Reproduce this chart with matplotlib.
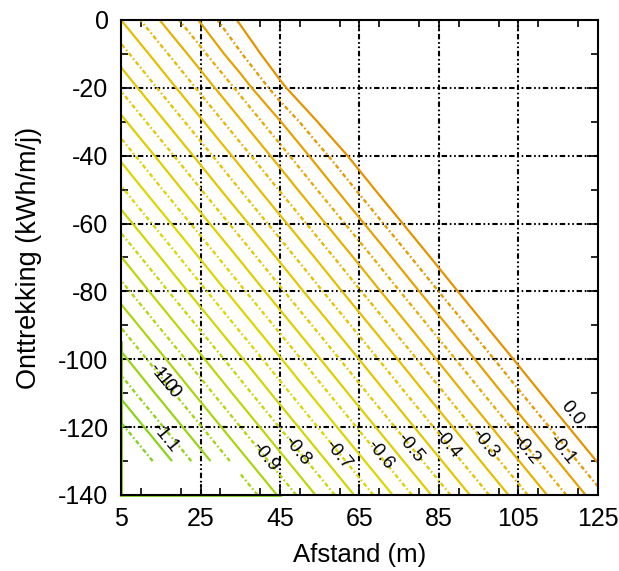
import numpy as np
import matplotlib
matplotlib.use("Agg")
import matplotlib.pyplot as plt
from matplotlib.colors import LinearSegmentedColormap, Normalize
from matplotlib.ticker import MultipleLocator

plt.rcParams['font.family'] = ['Liberation Sans', 'DejaVu Sans']
plt.rcParams['axes.unicode_minus'] = False

# Distance (m) along columns, extraction (kWh/m/j) along rows
afstand = np.array([5, 15, 25, 35, 45, 55, 65, 75, 85, 95, 105, 115, 125])
onttrekking = np.array([0, -10, -20, -30, -40, -50, -60, -70, -80, -90,
                        -100, -110, -120, -130, -140])

# Temperature change field; nan where no result is available
dT = np.array([
    [-0.300, -0.197, -0.094,  0.009,  0.112,  0.215,  0.318,  0.421,  0.524,  0.627,  0.730,  0.833,  0.936],
    [-0.372, -0.269, -0.166, -0.055,  0.052,  0.143,  0.246,  0.349,  0.452,  0.555,  0.658,  0.761,  0.864],
    [-0.443, -0.340, -0.237, -0.134, -0.016,  0.085,  0.175,  0.278,  0.381,  0.484,  0.587,  0.690,  0.793],
    [-0.515, -0.412, -0.309, -0.206, -0.103,  0.006,  0.103,  0.206,  0.309,  0.412,  0.515,  0.618,  0.721],
    [-0.587, -0.484, -0.381, -0.278, -0.175, -0.072,  0.031,  0.134,  0.237,  0.340,  0.443,  0.546,  0.649],
    [-0.658, -0.555, -0.452, -0.349, -0.246, -0.143, -0.040,  0.063,  0.166,  0.269,  0.372,  0.475,  0.578],
    [-0.730, -0.627, -0.524, -0.421, -0.318, -0.215, -0.112, -0.009,  0.094,  0.197,  0.300,  0.403,  0.506],
    [-0.802, -0.699, -0.596, -0.493, -0.390, -0.287, -0.184, -0.081,  0.022,  0.125,  0.228,  0.331,  0.434],
    [-0.873, -0.770, -0.667, -0.564, -0.461, -0.358, -0.255, -0.152, -0.049,  0.054,  0.157,  0.260,  0.363],
    [-0.945, -0.842, -0.739, -0.636, -0.533, -0.430, -0.327, -0.224, -0.121, -0.018,  0.085,  0.188,  0.291],
    [-1.017, -0.914, -0.811, -0.708, -0.605, -0.502, -0.399, -0.296, -0.193, -0.090,  0.013,  0.116,  0.219],
    [-1.088, -0.985, -0.882, -0.779, -0.676, -0.573, -0.470, -0.367, -0.264, -0.161, -0.058,  0.045,  0.148],
    [-1.160, -1.057, -0.954, -0.851, -0.748, -0.645, -0.542, -0.439, -0.336, -0.233, -0.130, -0.027,  0.076],
    [-1.232, -1.129, -1.026, -0.923, -0.820, -0.717, -0.614, -0.511, -0.408, -0.305, -0.202, -0.099,  0.004],
    [np.nan, np.nan, np.nan, -0.995, -0.892, -0.789, -0.686, -0.583, -0.480, -0.377, -0.274, -0.171, -0.068],
])

main_levels = [-1.1, -1.0, -0.9, -0.8, -0.7, -0.6, -0.5, -0.4, -0.3, -0.2, -0.1, 0.0]
half_levels = [-1.15, -1.05, -0.95, -0.85, -0.75, -0.65, -0.55, -0.45, -0.35, -0.25, -0.15, -0.05]

# Domain rim traced in the lowest contour colour
rim_bottom_x = [5, 45]
rim_left_y = [-95, -140]

xticks = [5, 25, 45, 65, 85, 105, 125]
yticks = [0, -20, -40, -60, -80, -100, -120, -140]

cmap = LinearSegmentedColormap.from_list(
    "dT", [(0.0, "#80d21c"), (0.45, "#dcd800"), (0.75, "#e6be00"), (1.0, "#e59400")])
norm = Normalize(vmin=-1.15, vmax=0.0)

fig = plt.figure(figsize=(6.19, 5.71), dpi=100)
ax = fig.add_axes([0.1955, 0.1331, 0.7705, 0.8319])
ax.set_xlim(5, 125)
ax.set_ylim(-140, 0)

Z = np.ma.masked_invalid(dT)
X, Y = np.meshgrid(afstand, onttrekking)

# grid first so contours sit above it
grid_style = (0, (2.6, 1.3, 0.8, 1.3, 0.8, 1.3))
for xv in xticks[1:-1]:
    ax.axvline(xv, color="black", lw=1.5, linestyle=grid_style, zorder=1)
for yv in yticks[1:-1]:
    ax.axhline(yv, color="black", lw=1.5, linestyle=grid_style, zorder=1)

cs_half = ax.contour(X, Y, Z, levels=half_levels, cmap=cmap, norm=norm,
                     linewidths=1.7, linestyles=[(0, (1.8, 1.1, 0.7, 1.1))],
                     corner_mask=False, zorder=2)
cs_main = ax.contour(X, Y, Z, levels=main_levels, cmap=cmap, norm=norm,
                     linewidths=1.6, linestyles="solid",
                     corner_mask=False, zorder=3)

rim_color = cmap(norm(min(half_levels)))
ax.plot(rim_bottom_x, [onttrekking[-1]] * 2, color=rim_color, lw=2.0, zorder=3, clip_on=False)
ax.plot([afstand[0]] * 2, rim_left_y, color=rim_color, lw=2.0, zorder=3, clip_on=False)

# label centres beside their lines (level, x, y)
label_spots = [(0.0, 118.5, -116), (-0.1, 116, -126.7), (-0.2, 107, -126.7),
               (-0.3, 96.5, -125), (-0.4, 87, -125), (-0.5, 77.7, -126),
               (-0.6, 70.2, -128), (-0.7, 59.6, -128), (-0.8, 49.3, -127),
               (-0.9, 41.2, -128.8), (-1.0, 15.2, -105.5), (-1.0, 16.6, -107.2),
               (-1.1, 16, -123)]


def fmt_level(v):
    return "%.1f" % (0.0 if abs(v) < 1e-9 else v)


def line_angle(level, px, py):
    """Screen angle of the contour of `level` nearest to (px, py)."""
    idx = int(np.argmin([abs(l - level) for l in main_levels]))
    segs = [s for s in cs_main.allsegs[idx] if len(s) > 1]
    target = ax.transData.transform((px, py))
    best = None
    for s in segs:
        d = ax.transData.transform(s)
        k = int(np.argmin(np.hypot(*(d - target).T)))
        dist = np.hypot(*(d[k] - target))
        if best is None or dist < best[0]:
            a = d[max(k - 1, 0)]
            b = d[min(k + 1, len(d) - 1)]
            best = (dist, a, b)
    _, a, b = best
    ang = np.degrees(np.arctan2(b[1] - a[1], b[0] - a[0]))
    if ang > 90:
        ang -= 180
    elif ang < -90:
        ang += 180
    return ang


for lvl, lx, ly in label_spots:
    ax.text(lx, ly, fmt_level(lvl), fontsize=13.5, color="black",
            rotation=line_angle(lvl, lx, ly), rotation_mode="anchor",
            ha="center", va="center", zorder=6)

ax.set_xticks(xticks)
ax.set_yticks(yticks)
ax.xaxis.set_minor_locator(MultipleLocator(10))
ax.yaxis.set_minor_locator(MultipleLocator(10))
ax.tick_params(which="both", direction="in", top=True, right=True, labelsize=18,
               width=1.2, color="black")
ax.tick_params(which="major", length=8, pad=9)
ax.tick_params(which="minor", length=5)
for sp in ax.spines.values():
    sp.set_linewidth(1.5)
    sp.set_zorder(5)

ax.set_xlabel("Afstand (m)", fontsize=18.5, labelpad=8)
ax.set_ylabel("Onttrekking (kWh/m/j)", fontsize=19.5, labelpad=12)

fig.savefig("out.png", dpi=100)
